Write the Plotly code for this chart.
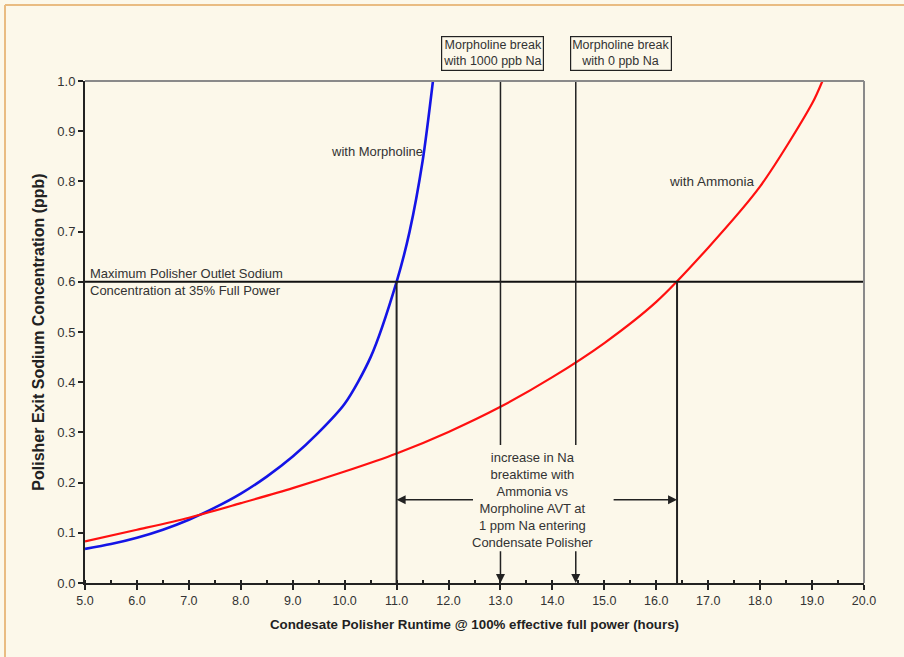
import plotly.graph_objects as go

# Polisher exit sodium vs runtime, morpholine AVT
morph_x = [5.0, 5.5, 6.0, 6.5, 7.0, 7.5, 8.0, 8.5, 9.0, 9.5, 10.0, 10.5, 11.0, 11.25, 11.5, 11.7]
morph_y = [0.068, 0.0775, 0.090, 0.106, 0.126, 0.150, 0.178, 0.212, 0.252, 0.300, 0.357, 0.450, 0.600, 0.700, 0.840, 1.000]

# Polisher exit sodium vs runtime, ammonia AVT
amm_x = [5.0, 6.0, 7.0, 8.0, 9.0, 10.0, 11.0, 12.0, 13.0, 14.0, 15.0, 16.0, 17.0, 18.0, 19.0, 19.2]
amm_y = [0.083, 0.106, 0.130, 0.159, 0.189, 0.222, 0.258, 0.301, 0.351, 0.410, 0.478, 0.560, 0.668, 0.790, 0.955, 1.000]

sodium_limit = 0.6
breakthrough_x = [11.0, 16.4]          # runtime at which each curve reaches the limit
morpholine_break_x = [13.0, 14.45]     # morpholine break points
break_box_text = ["Morpholine break<br>with 1000 ppb Na", "Morpholine break<br>with 0 ppb Na"]
break_box_x = [12.85, 15.33]

x_ticks = [5.0 + i for i in range(16)]
y_ticks = [round(0.1 * i, 1) for i in range(11)]

BG = "#FCF8EA"
TXT = "#333333"
FONT = "Liberation Sans, Arial, sans-serif"

fig = go.Figure()
fig.add_trace(go.Scatter(x=morph_x, y=morph_y, mode="lines",
                         line=dict(color="#1414E6", width=2.6, shape="spline", smoothing=0.8),
                         hoverinfo="skip", showlegend=False))
fig.add_trace(go.Scatter(x=amm_x, y=amm_y, mode="lines",
                         line=dict(color="#FF1010", width=2.2, shape="spline", smoothing=0.8),
                         hoverinfo="skip", showlegend=False))

shapes = []
# Maximum sodium limit line
shapes.append(dict(type="line", xref="x", yref="y", x0=5.0, x1=20.0, y0=sodium_limit, y1=sodium_limit,
                   line=dict(color="#111111", width=2)))
# Breakthrough drop lines
for bx in breakthrough_x:
    shapes.append(dict(type="line", xref="x", yref="y", x0=bx, x1=bx, y0=0, y1=sodium_limit,
                       line=dict(color="#222222", width=2)))
# Morpholine break lines (interrupted by the text block)
for mx in morpholine_break_x:
    shapes.append(dict(type="line", xref="x", yref="y", x0=mx, x1=mx, y0=0.275, y1=1.008,
                       line=dict(color="#222222", width=1.5)))
# Page border (top and left)
shapes.append(dict(type="line", xref="paper", yref="paper", x0=-0.1027, x1=1.1, y0=1.1514, y1=1.1514,
                   line=dict(color="#E9BC82", width=2)))
shapes.append(dict(type="line", xref="paper", yref="paper", x0=-0.1027, x1=-0.1027, y0=-0.2, y1=1.1514,
                   line=dict(color="#E9BC82", width=2)))
# Top and right frame
shapes.append(dict(type="line", xref="paper", yref="paper", x0=0, x1=1, y0=1, y1=1,
                   line=dict(color="#8A8A8A", width=2)))
shapes.append(dict(type="line", xref="paper", yref="paper", x0=1, x1=1, y0=0, y1=1,
                   line=dict(color="#8A8A8A", width=2)))

annotations = []
for bx, txt in zip(break_box_x, break_box_text):
    annotations.append(dict(x=bx, y=1.054, xref="x", yref="paper", xanchor="center", yanchor="middle",
                            text=txt, showarrow=False,
                            font=dict(family=FONT, size=12.5, color=TXT), align="center",
                            bordercolor="#222222", borderwidth=1.2, borderpad=1, bgcolor=BG))
annotations.append(dict(x=5.05, y=sodium_limit, xref="x", yref="y", xanchor="left", yanchor="middle",
                        text="Maximum Polisher Outlet Sodium<br>Concentration at 35% Full Power",
                        showarrow=False, align="left",
                        font=dict(family=FONT, size=13, color=TXT)))
annotations.append(dict(x=10.62, y=0.859, xref="x", yref="y", text="with Morpholine", showarrow=False,
                        font=dict(family=FONT, size=13, color=TXT)))
annotations.append(dict(x=17.08, y=0.800, xref="x", yref="y", text="with Ammonia", showarrow=False,
                        font=dict(family=FONT, size=13.5, color=TXT)))
annotations.append(dict(x=13.62, y=0.166, xref="x", yref="y",
                        text="increase in Na<br>breaktime with<br>Ammonia vs<br>Morpholine AVT at<br>1 ppm Na entering<br>Condensate Polisher",
                        showarrow=False, align="center",
                        font=dict(family=FONT, size=13, color=TXT)))
# Horizontal arrows to the breakthrough lines
annotations.append(dict(x=breakthrough_x[0], y=0.166, ax=12.5, ay=0.166, xref="x", yref="y",
                        axref="x", ayref="y", text="", showarrow=True, arrowhead=2,
                        arrowsize=1.2, arrowwidth=1.5, arrowcolor="#222222"))
annotations.append(dict(x=breakthrough_x[1], y=0.166, ax=15.15, ay=0.166, xref="x", yref="y",
                        axref="x", ayref="y", text="", showarrow=True, arrowhead=2,
                        arrowsize=1.2, arrowwidth=1.5, arrowcolor="#222222"))
# Downward arrows onto the runtime axis
for mx in morpholine_break_x:
    annotations.append(dict(x=mx, y=0.0, ax=mx, ay=0.066, xref="x", yref="y",
                            axref="x", ayref="y", text="", showarrow=True, arrowhead=2,
                            arrowsize=1.2, arrowwidth=1.5, arrowcolor="#222222"))

fig.update_layout(
    width=904, height=657,
    margin=dict(l=85, r=40, t=81, b=74),
    paper_bgcolor=BG, plot_bgcolor=BG,
    font=dict(family=FONT, color=TXT),
    shapes=shapes, annotations=annotations,
    showlegend=False,
)
fig.update_xaxes(
    range=[5, 20], tickvals=x_ticks, ticktext=[f"{v:.1f}" for v in x_ticks],
    showgrid=False, zeroline=False, showline=True, linecolor="#222222", linewidth=2,
    ticks="outside", ticklen=5, tickwidth=2, tickcolor="#222222",
    minor=dict(dtick=0.5, ticks="inside", ticklen=3, tickwidth=1.5, tickcolor="#222222"),
    tickfont=dict(family=FONT, size=12.5, color=TXT),
    title=dict(text="<b>Condesate Polisher Runtime @ 100% effective full power (hours)</b>",
               font=dict(family=FONT, size=13.3, color="#222222"), standoff=13),
)
fig.update_yaxes(
    range=[0, 1], tickvals=y_ticks, ticktext=[f"{v:.1f}" for v in y_ticks],
    showgrid=False, zeroline=False, showline=True, linecolor="#222222", linewidth=2,
    ticks="outside", ticklen=5, tickwidth=2, tickcolor="#222222",
    tickfont=dict(family=FONT, size=13, color=TXT),
    title=dict(text="<b>Polisher Exit Sodium Concentration (ppb)</b>",
               font=dict(family=FONT, size=16, color="#222222"), standoff=9),
)

fig.write_html("out.html")
